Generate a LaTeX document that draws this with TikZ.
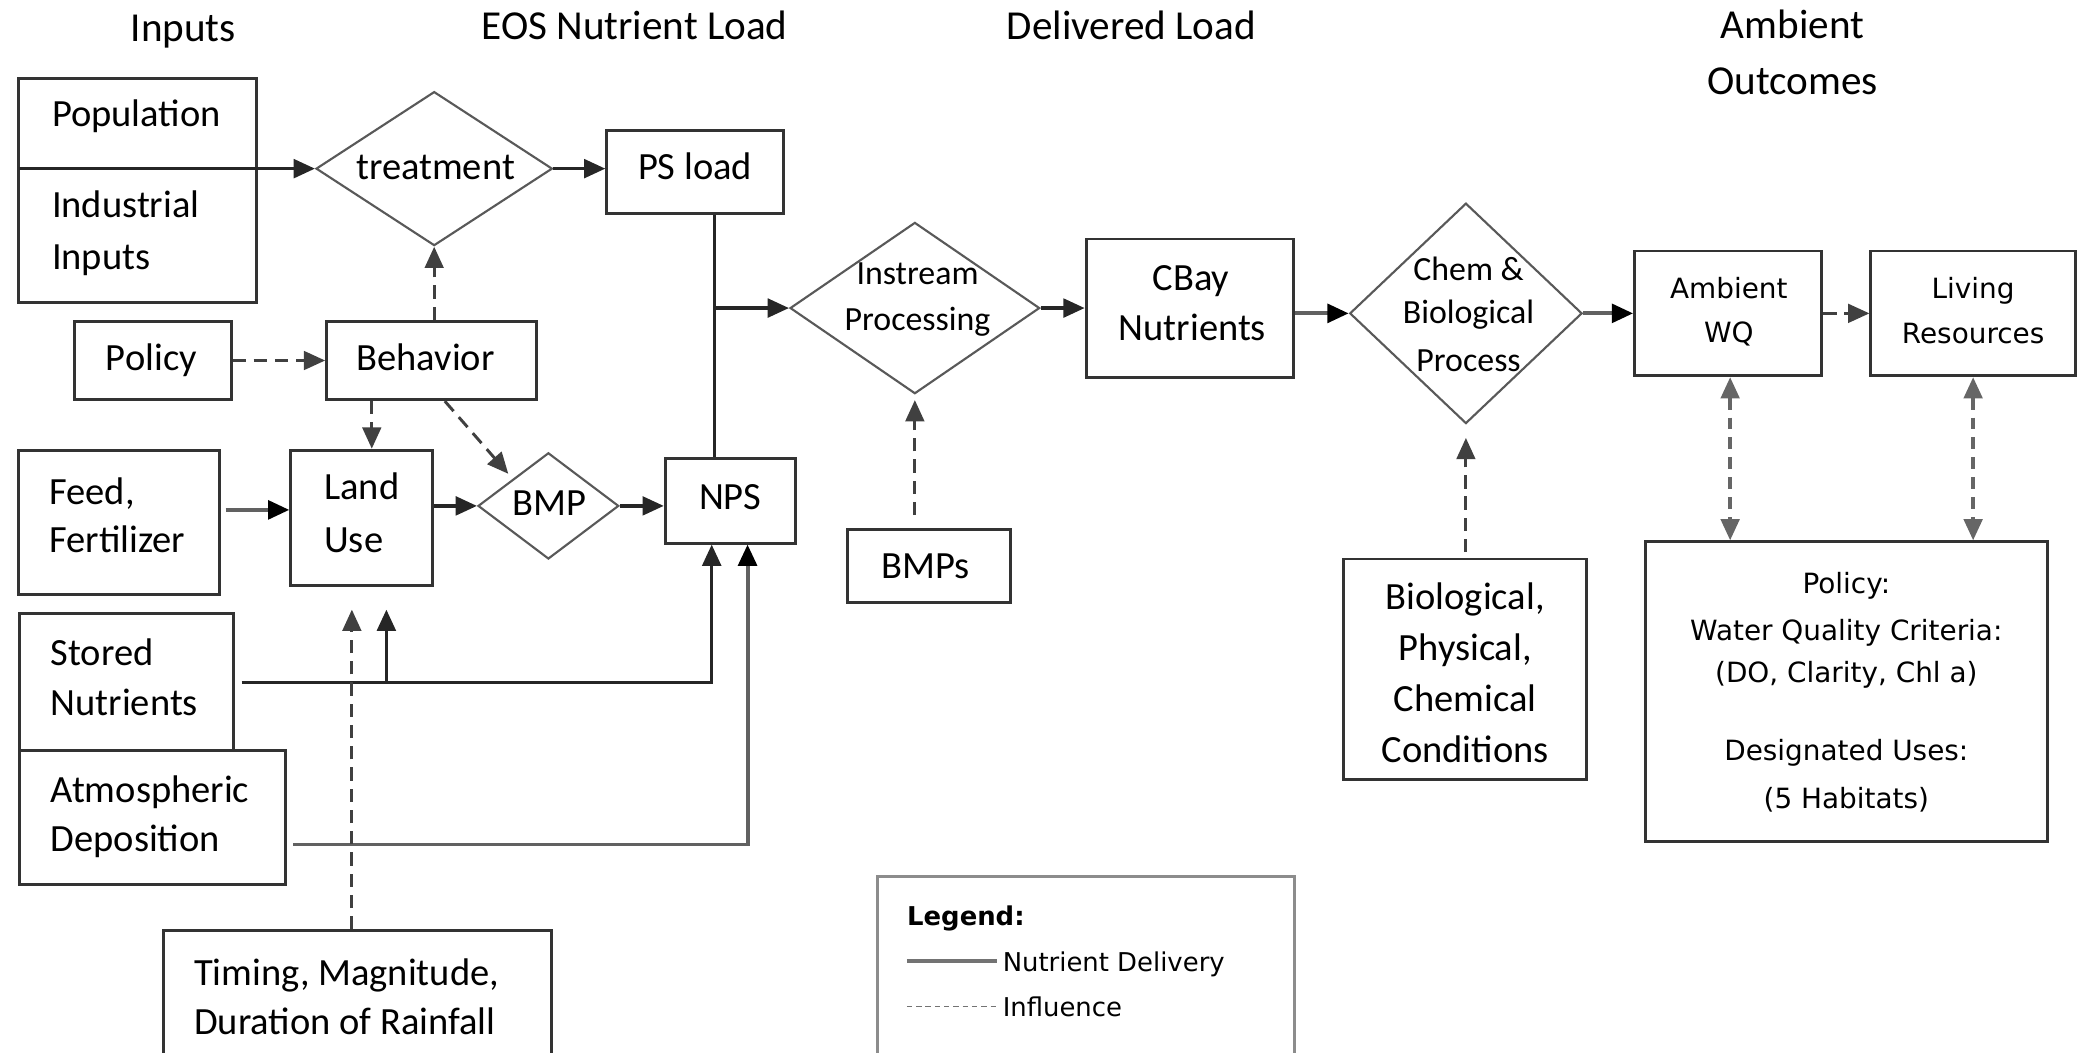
\documentclass[tikz,border=0pt]{standalone}
\usepackage{fontspec}
\setmainfont{Carlito}
\newfontfamily\verfont{DejaVu Sans}
\usetikzlibrary{arrows.meta,shapes.geometric,calc}
\begin{document}
\begin{tikzpicture}[x=1pt,y=-1pt,
  >={Triangle[length=16pt,width=14pt]},
  box/.style={draw=black!80, line width=2.2pt, inner sep=0pt},
  dia/.style={diamond, draw=black!65, line width=1.6pt, inner sep=0pt},
  htxt/.style={inner sep=0pt, font=\fontsize{31}{36}\selectfont},
  txt/.style={inner sep=0pt, font=\fontsize{29}{34}\selectfont},
  stxt/.style={inner sep=0pt, font=\fontsize{25.5}{30}\selectfont},
  vtxt/.style={inner sep=0pt, font=\verfont\fontsize{21}{25}\selectfont},
  ltxt/.style={inner sep=0pt, font=\verfont\fontsize{19.5}{24}\selectfont},
  flow/.style={draw=black!85, line width=2.6pt, ->},
  flowg/.style={draw=black!62, line width=3pt, -{Triangle[length=16pt,width=14pt,black]}},
  infl/.style={draw=black!75, line width=2.2pt, dash pattern=on 10pt off 6pt, ->},
  infl2/.style={draw=black!60, line width=2.6pt, dash pattern=on 9pt off 6pt, <->},
]
\useasboundingbox (0,0) rectangle (1568,793);

% headers
\node[htxt, anchor=base] (hIn) at (138,31) {Inputs};
\node[htxt, anchor=base] (hEos) at (478,30) {EOS Nutrient Load};
\node[htxt, anchor=base] (hDel) at (852,30) {Delivered Load};
\node[htxt, anchor=base] (hAmb1) at (1350,29) {Ambient};
\node[htxt, anchor=base] (hAmb2) at (1350,71) {Outcomes};

% boxes
\node[box, minimum width=179, minimum height=169] (pop) at (103.5,143.5) {};
\node[box, minimum width=118, minimum height=59] (policy) at (115,271.5) {};
\node[box, minimum width=158, minimum height=59] (behav) at (325,271.5) {};
\node[box, minimum width=151, minimum height=109] (feed) at (89.5,393.5) {};
\node[box, minimum width=107, minimum height=102] (land) at (272.5,390) {};
\node[box, minimum width=133, minimum height=63] (psload) at (523.5,129.5) {};
\node[box, minimum width=98, minimum height=64] (nps) at (550,377) {};
\node[box, minimum width=161, minimum height=103] (stored) at (95.5,513.5) {};
\node[box, minimum width=200, minimum height=101] (atmos) at (115,615.5) {};
\node[box, minimum width=292, minimum height=111] (timing) at (269,756.5) {};
\node[box, minimum width=123, minimum height=55] (bmps) at (699.5,426.5) {};
\node[box, minimum width=156, minimum height=104] (cbay) at (896,232) {};
\node[box, minimum width=183, minimum height=166] (bio) at (1103.5,504) {};
\node[box, minimum width=141, minimum height=94] (ambient) at (1301.5,236) {};
\node[box, minimum width=154, minimum height=94] (living) at (1486,236) {};
\node[box, minimum width=303, minimum height=226] (pwq) at (1390.5,521) {};
\node[box, draw=black!45, line width=2pt, minimum width=314, minimum height=150] (legend) at (818,735) {};

% diamonds
\node[dia, minimum width=178, minimum height=116] (treat) at (327,127) {};
\node[dia, minimum width=106, minimum height=80] (bmp) at (413,381) {};
\node[dia, minimum width=188, minimum height=129] (instream) at (689,232) {};
\node[dia, minimum width=175, minimum height=166] (chem) at (1104,236) {};

% texts
\node[txt, anchor=base west] (tPop) at (39,95) {Population};
\node[txt, anchor=base west] (tInd) at (39,164) {Industrial};
\node[txt, anchor=base west] (tInp) at (39,203) {Inputs};
\node[txt, anchor=base] (tTreat) at (328,135) {treatment};
\node[txt, anchor=base] (tPs) at (523.5,135) {PS load};
\node[txt, anchor=base] (tPol) at (114,279) {Policy};
\node[txt, anchor=base] (tBeh) at (320.5,279) {Behavior};
\node[txt, anchor=base west] (tFeed1) at (37,380) {Feed,};
\node[txt, anchor=base west] (tFeed2) at (37,416) {Fertilizer};
\node[txt, anchor=base west] (tLand1) at (244,376) {Land};
\node[txt, anchor=base west] (tLand2) at (244,416) {Use};
\node[txt, anchor=base] (tBmp) at (414,388.5) {BMP};
\node[txt, anchor=base] (tNps) at (550,383.5) {NPS};
\node[txt, anchor=base west] (tSt1) at (38,501) {Stored};
\node[txt, anchor=base west] (tSt2) at (38,539) {Nutrients};
\node[txt, anchor=base west] (tAt1) at (38,604) {Atmospheric};
\node[txt, anchor=base west] (tAt2) at (38,641) {Deposition};
\node[txt, anchor=base west] (tTim1) at (146,742) {Timing, Magnitude,};
\node[txt, anchor=base west] (tTim2) at (146,779) {Duration of Rainfall};
\node[stxt, anchor=base] (tIns1) at (691,214) {Instream};
\node[stxt, anchor=base] (tIns2) at (691,249) {Processing};
\node[txt, anchor=base] (tCb1) at (897,218.5) {CBay};
\node[txt, anchor=base] (tCb2) at (898,256.5) {Nutrients};
\node[stxt, anchor=base] (tCh1) at (1106,211) {Chem \&};
\node[stxt, anchor=base] (tCh2) at (1106,243.5) {Biological};
\node[stxt, anchor=base] (tCh3) at (1106,279.5) {Process};
\node[txt, anchor=base] (tBmps) at (697,436) {BMPs};
\node[txt, anchor=base] (tBio1) at (1103.5,459) {Biological,};
\node[txt, anchor=base] (tBio2) at (1103.5,497.5) {Physical,};
\node[txt, anchor=base] (tBio3) at (1103.5,536) {Chemical};
\node[txt, anchor=base] (tBio4) at (1103.5,574) {Conditions};
\node[vtxt, anchor=base] (tAmb1) at (1302,224.5) {Ambient};
\node[vtxt, anchor=base] (tAmb2) at (1302,258) {WQ};
\node[vtxt, anchor=base] (tLiv1) at (1486,224.5) {Living};
\node[vtxt, anchor=base] (tLiv2) at (1486,259) {Resources};
\node[vtxt, anchor=base] (tP1) at (1390.5,447) {Policy:};
\node[vtxt, anchor=base] (tP2) at (1390.5,482) {Water Quality Criteria:};
\node[vtxt, anchor=base] (tP3) at (1390.5,514) {(DO, Clarity, Chl a)};
\node[vtxt, anchor=base] (tP4) at (1390.5,573) {Designated Uses:};
\node[vtxt, anchor=base] (tP5) at (1390.5,609) {(5 Habitats)};
\node[ltxt, anchor=base west, font=\verfont\bfseries\fontsize{19.5}{24}\selectfont] (tLeg) at (683,697) {Legend:};
\node[ltxt, anchor=base west] (tLeg1) at (755,731.5) {Nutrient Delivery};
\node[ltxt, anchor=base west] (tLeg2) at (755,765.5) {Influence};

% helper coordinates
\coordinate (popdiv) at (14,127);
\coordinate (j1) at (538,232);
\coordinate (xl) at (280,0);
\coordinate (xb) at (335,0);
\coordinate (feedout) at (170,384);
\coordinate (stout) at (182,514);
\coordinate (atout) at (221,636);
\coordinate (cS) at (536,0);
\coordinate (cA) at (563,0);
\coordinate (cL) at (291,0);
\coordinate (cT) at (265,0);
\coordinate (cW) at (1303,0);
\coordinate (cR) at (1486,0);
\coordinate (lg1a) at (683,724);
\coordinate (lg1b) at (751,724);
\coordinate (lg2a) at (683,758);
\coordinate (lg2b) at (751,758);

% nutrient delivery connectors
\draw[flow] (popdiv) -- (treat.west);
\draw[flow] (treat.east) -- (psload.west |- treat.east);
\draw[draw=black!85, line width=2.6pt] (psload.south -| j1) -- (nps.north -| j1);
\draw[flow] (j1) -- (instream.west);
\draw[flowg] (feedout) -- (land.west |- feedout);
\draw[flow] (land.east |- bmp.west) -- (bmp.west);
\draw[flow] (bmp.east) -- (nps.west |- bmp.east);
\draw[flow] (stout) -| (nps.south -| cS);
\draw[flow, shorten >=17pt] (stout -| cL) -- (land.south -| cL);
\draw[flowg] (atout) -| (nps.south -| cA);
\draw[flow] (instream.east) -- (cbay.west |- instream.east);
\draw[flowg] (cbay.east |- chem.west) -- (chem.west);
\draw[flowg] (chem.east) -- (ambient.west |- chem.east);

% influence connectors
\draw[infl] (policy.east) -- (behav.west);
\draw[infl] (behav.north -| treat.south) -- (treat.south);
\draw[infl] (behav.south -| xl) -- (land.north -| xl);
\draw[infl, shorten >=5pt] (behav.south -| xb) -- (bmp.north west);
\draw[infl, shorten >=17pt] (timing.north -| cT) -- (land.south -| cT);
\draw[infl, shorten <=10pt, shorten >=4pt] (bmps.north -| instream.south) -- (instream.south);
\draw[infl, shorten <=4pt, shorten >=10pt] (bio.north -| chem.south) -- (chem.south);
\draw[infl] (ambient.east) -- (living.west);
\draw[infl2] (ambient.south -| cW) -- (pwq.north -| cW);
\draw[infl2] (living.south -| cR) -- (pwq.north -| cR);

% legend samples
\draw[draw=black!55, line width=3pt] (lg1a) -- (lg1b);
\draw[draw=black!55, line width=1.2pt, dash pattern=on 4pt off 3pt] (lg2a) -- (lg2b);
\end{tikzpicture}
\end{document}
